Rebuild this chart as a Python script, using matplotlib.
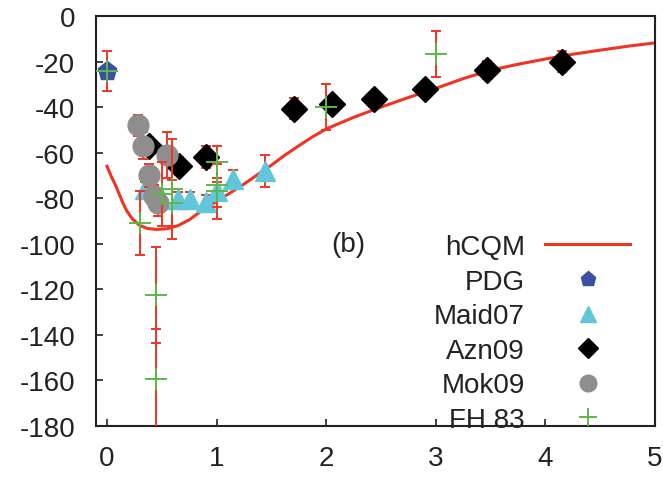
import matplotlib
matplotlib.use("Agg")
import matplotlib.pyplot as plt

plt.rcParams['font.family'] = ['Liberation Sans', 'DejaVu Sans']
plt.rcParams['axes.unicode_minus'] = False

# hCQM curve
curve_x = [0.0, 0.04, 0.08, 0.11, 0.14, 0.18, 0.23, 0.3, 0.37, 0.45, 0.55, 0.65, 0.75, 0.85, 1.0,
           1.12, 1.25, 1.37, 1.5, 1.62, 1.75, 1.87, 2.0, 2.25, 2.5, 2.75, 3.0, 3.25, 3.5, 3.75,
           4.0, 4.25, 4.5, 4.75, 5.0]
curve_y = [-66, -70.5, -74.5, -78, -81.5, -85.5, -89, -92, -93.3, -93.7, -93.4, -92, -89.5, -86, -81.4,
           -77.8, -73.8, -69.8, -65.5, -61.2, -57, -53.2, -49.6, -44.5, -40, -35.8, -31.8, -27.5, -23.8, -21.2,
           -18.9, -16.8, -15, -13.3, -11.8]

pdg_x = [0.0]
pdg_y = [-24]

maid_x = [0.35, 0.65, 0.76, 0.90, 1.0, 1.15, 1.44]
maid_y = [-76, -80.3, -80.3, -81.6, -76.8, -71.5, -68]
maid_err = [3, 3, 3, 3, 4, 4, 7]

azn_x = [0.38, 0.66, 0.90, 1.71, 2.05, 2.44, 2.90, 3.47, 4.15]
azn_y = [-57, -65.8, -61.8, -40.8, -38.6, -36.4, -32.0, -23.7, -20.0]
azn_err = [4, 4, 4.8, 4.6, 3, 3, 3, 4, 4.7]

mok_x = [0.28, 0.33, 0.38, 0.43, 0.47, 0.55]
mok_y = [-48, -57, -70, -79, -82, -61]
mok_err = [4.5, 6, 5, 5, 6, 10]

fh_x = [0.0, 0.30, 0.45, 0.45, 0.50, 0.59, 0.59, 1.0, 1.0, 1.0, 2.0, 3.0]
fh_y = [-24, -91, -122.4, -159.2, -78, -76, -82, -64, -74, -77, -40, -16.7]
fh_err = [8.8, 14, 21, 21.6, 14, 22, 10, 7, 10, 12, 10, 10]

legend_labels = ['hCQM', 'PDG', 'Maid07', 'Azn09', 'Mok09', 'FH 83']

red = '#EE3524'
fig = plt.figure(figsize=(6.63, 4.85), dpi=100)
ax = fig.add_axes([0.1448, 0.1196, 0.8431, 0.8454])

h_curve, = ax.plot(curve_x, curve_y, color=red, lw=2.2, zorder=2)
h_pdg, = ax.plot(pdg_x, pdg_y, ls='none', marker='p', ms=14, color='#3D4FA3', zorder=3)
eb_kw = dict(ecolor=red, elinewidth=1.4, capsize=3.5, capthick=1.4)
h_maid = ax.errorbar(maid_x, maid_y, yerr=maid_err, fmt='^', ms=14, color='#62C6DA', zorder=3, **eb_kw)
h_azn = ax.errorbar(azn_x, azn_y, yerr=azn_err, fmt='D', ms=13, color='black', zorder=4, **eb_kw)
h_mok = ax.errorbar(mok_x, mok_y, yerr=mok_err, fmt='o', ms=15, color='#8E8E8E', zorder=5, **eb_kw)
h_fh = ax.errorbar(fh_x, fh_y, yerr=fh_err, fmt='+', ms=16, mew=1.4, color='#5CB947', zorder=6, **eb_kw)

ax.set_xlim(-0.1, 5)
ax.set_ylim(-180, 0)
ax.set_xticks([0, 1, 2, 3, 4, 5])
ax.set_yticks(range(-180, 1, 20))
ax.tick_params(direction='in', length=5, width=1.2, labelsize=20,
               top=False, right=False, colors='#222222')
ax.tick_params(axis='x', pad=14)
ax.tick_params(axis='y', pad=15)
for s in ax.spines.values():
    s.set_linewidth(1.5)
    s.set_color('#222222')

ax.text(2.2, -100, '(b)', fontsize=20, ha='center', va='center', color='#222222')

# legend shows only the markers, not the error bars
handles = [h_curve, h_pdg, h_maid[0], h_azn[0], h_mok[0], h_fh[0]]
leg = ax.legend(handles, legend_labels, loc='upper right', bbox_to_anchor=(630 / 663, 1 - 235 / 485),
                bbox_transform=fig.transFigure, frameon=False, markerfirst=False,
                alignment='right', fontsize=20, handlelength=3.06, handletextpad=0.72,
                labelspacing=0.31, borderpad=0, borderaxespad=0, numpoints=1,
                markerscale=0.8)
for t in leg.get_texts():
    t.set_color('#222222')

fig.savefig('out.png', dpi=100)
